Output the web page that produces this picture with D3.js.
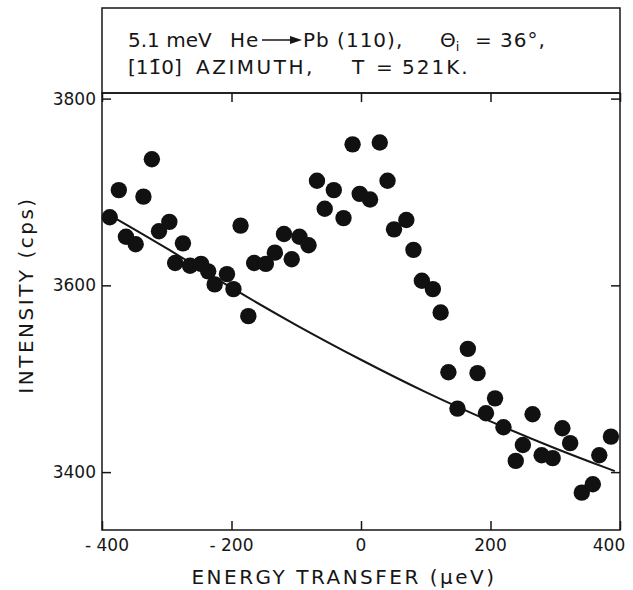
<!DOCTYPE html>
<html>
<head>
<meta charset="utf-8">
<script src="https://cdn.jsdelivr.net/npm/d3@7/dist/d3.min.js"></script>
<style>
    body { margin: 0; background: #fff; }
    text { font-family: "DejaVu Sans", sans-serif; fill: #161616; }
</style>
</head>
<body>
<div id="chart-area"></div>
<script>
var energy = [-388, -374, -363, -348, -336, -323, -312, -296, -287, -275, -264, -247, -236, -226,
    -207, -197, -186, -174, -165, -147, -133, -119, -107, -95, -81, -68, -56, -42, -27, -13, -2,
    14, 29, 41, 51, 70, 81, 94, 111, 123, 135, 149, 165, 180, 193, 207, 220, 239, 250, 265, 279,
    296, 311, 323, 341, 358, 368, 386];
var intensity = [3673, 3702, 3652, 3644, 3695, 3735, 3658, 3668, 3624, 3645, 3621, 3623, 3615, 3601,
    3612, 3596, 3664, 3567, 3624, 3623, 3635, 3655, 3628, 3652, 3643, 3712, 3682, 3702, 3672, 3751, 3698,
    3692, 3753, 3712, 3660, 3670, 3638, 3605, 3596, 3571, 3507, 3468, 3532, 3506, 3463, 3479, 3448, 3412, 3429, 3462, 3418,
    3415, 3447, 3431, 3378, 3387, 3418, 3438];

// background curve
var fitEnergy = [-380, -300, -200, -100, 0, 100, 200, 300, 392];
var fitIntensity = [3672, 3640, 3597, 3557, 3520, 3485, 3454, 3425, 3401];

var xTicks = [-400, -200, 0, 200, 400];
var yTicks = [3400, 3600, 3800];
var xDomain = [-400, 400];
var yDomain = [3338, 3806];

ScatterChart = function (_parentElement) {
    this.parentElement = _parentElement;
    this.initVis();
};

ScatterChart.prototype.initVis = function () {
    var vis = this;
    vis.margin = { left: 102, right: 13, top: 93, bottom: 60 };
    vis.width = 633 - vis.margin.left - vis.margin.right;
    vis.height = 590 - vis.margin.top - vis.margin.bottom;

    vis.svg = d3.select(vis.parentElement)
        .append("svg")
        .attr("width", 633)
        .attr("height", 590);
    vis.g = vis.svg.append("g")
        .attr("transform", "translate(" + vis.margin.left + ", " + vis.margin.top + ")");

    vis.x = d3.scaleLinear().domain(xDomain).range([0, vis.width]);
    vis.y = d3.scaleLinear().domain(yDomain).range([vis.height, 0]);

    // header box
    vis.svg.append("rect")
        .attr("x", vis.margin.left)
        .attr("y", 8)
        .attr("width", vis.width)
        .attr("height", vis.margin.top - 8)
        .attr("fill", "none")
        .attr("stroke", "#161616")
        .attr("stroke-width", 1.5);

    var head = vis.svg.append("g").attr("font-size", "20px");
    head.append("text").attr("x", 128).attr("y", 47).text("5.1 meV");
    head.append("text").attr("x", 230).attr("y", 47).attr("letter-spacing", "1px").text("He");
    head.append("line")
        .attr("x1", 262).attr("x2", 292).attr("y1", 40).attr("y2", 40)
        .attr("stroke", "#161616").attr("stroke-width", 1.5);
    head.append("path")
        .attr("d", "M290,36 L302,40 L290,44 Z")
        .attr("fill", "#161616");
    head.append("text").attr("x", 303).attr("y", 47).attr("letter-spacing", "1px").text("Pb (110),");
    var th = head.append("text").attr("x", 440).attr("y", 47);
    th.append("tspan").text("\u0398");
    th.append("tspan").attr("font-size", "13px").attr("dy", 4).text("i");
    head.append("text").attr("x", 475).attr("y", 47).attr("letter-spacing", "1px").text("= 36\u00b0,");

    head.append("text").attr("x", 128).attr("y", 74).text("[11\u03040]");
    head.append("text").attr("x", 196).attr("y", 74).attr("letter-spacing", "2.5px").text("AZIMUTH,");
    head.append("text").attr("x", 352).attr("y", 74).text("T");
    head.append("text").attr("x", 376).attr("y", 74).text("=");
    head.append("text").attr("x", 402).attr("y", 74).attr("letter-spacing", "2px").text("521K.");

    // frame
    vis.g.append("rect")
        .attr("width", vis.width)
        .attr("height", vis.height)
        .attr("fill", "none")
        .attr("stroke", "#161616")
        .attr("stroke-width", 1.5);

    // inward ticks on all four sides
    var tickLen = 9;
    vis.g.append("g").attr("transform", "translate(0," + vis.height + ")")
        .call(d3.axisTop(vis.x).tickValues(xTicks).tickSize(tickLen).tickFormat(""));
    vis.g.append("g")
        .call(d3.axisBottom(vis.x).tickValues(xTicks).tickSize(tickLen).tickFormat(""));
    vis.g.append("g")
        .call(d3.axisRight(vis.y).tickValues(yTicks).tickSize(tickLen).tickFormat(""));
    vis.g.append("g").attr("transform", "translate(" + vis.width + ",0)")
        .call(d3.axisLeft(vis.y).tickValues(yTicks).tickSize(tickLen).tickFormat(""));
    vis.g.selectAll(".domain").remove();
    vis.g.selectAll(".tick line").attr("stroke", "#161616").attr("stroke-width", 1.5);

    // tick labels (end labels pulled inside like the original)
    vis.g.selectAll(".xlab").data(xTicks).enter().append("text")
        .attr("class", "xlab")
        .attr("x", function (d) { return vis.x(d) + (d === -400 ? 5 : d === 400 ? -11 : 0); })
        .attr("y", vis.height + 21)
        .attr("font-size", "17px")
        .attr("text-anchor", "middle")
        .text(function (d) { return d < 0 ? "- " + Math.abs(d) : d; });
    vis.g.selectAll(".ylab").data(yTicks).enter().append("text")
        .attr("class", "ylab")
        .attr("x", -6)
        .attr("y", function (d) { return vis.y(d); })
        .attr("dy", "0.36em")
        .attr("font-size", "17px")
        .attr("text-anchor", "end")
        .text(function (d) { return d; });

    // X Label
    vis.svg.append("text")
        .attr("x", 344)
        .attr("y", 584)
        .attr("font-size", "20px")
        .attr("letter-spacing", "2.5px")
        .attr("text-anchor", "middle")
        .text("ENERGY TRANSFER (\u00b5eV)");

    // Y Label
    vis.svg.append("text")
        .attr("transform", "translate(33,295) rotate(-90)")
        .attr("font-size", "20px")
        .attr("letter-spacing", "2.5px")
        .attr("text-anchor", "middle")
        .text("INTENSITY (cps)");

    vis.updateVis();
};

ScatterChart.prototype.updateVis = function () {
    var vis = this;

    var fit = fitEnergy.map(function (e, i) { return { e: e, v: fitIntensity[i] }; });
    var line = d3.line()
        .x(function (d) { return vis.x(d.e); })
        .y(function (d) { return vis.y(d.v); })
        .curve(d3.curveBasis);
    vis.g.append("path")
        .datum(fit)
        .attr("d", line)
        .attr("fill", "none")
        .attr("stroke", "#161616")
        .attr("stroke-width", 2);

    var pts = energy.map(function (e, i) { return { e: e, v: intensity[i] }; });
    vis.g.selectAll("circle").data(pts).enter()
        .append("circle")
        .attr("cx", function (d) { return vis.x(d.e); })
        .attr("cy", function (d) { return vis.y(d.v); })
        .attr("r", 8.2)
        .attr("fill", "#111");
};

new ScatterChart("#chart-area");
</script>
</body>
</html>
